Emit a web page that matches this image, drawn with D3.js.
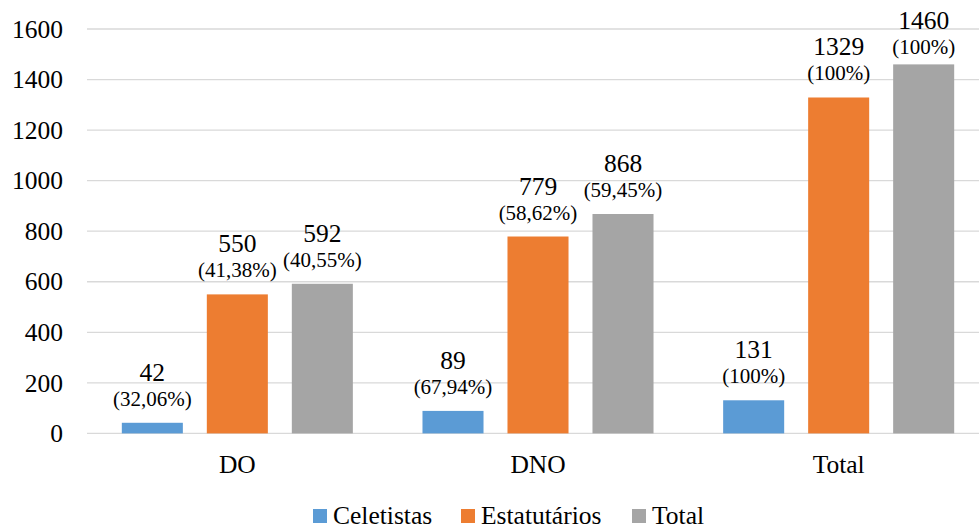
<!DOCTYPE html>
<html>
<head>
<meta charset="utf-8">
<script src="https://cdn.jsdelivr.net/npm/d3@7"></script>
<style>
  html, body { margin: 0; padding: 0; background: #fff; }
</style>
</head>
<body>
<svg id="chart" width="979" height="530"></svg>
<script>
// Groups and series
const groups = ["DO", "DNO", "Total"];
const seriesNames = ["Celetistas", "Estatutários", "Total"];
const seriesColors = ["#5B9BD5", "#ED7D31", "#A5A5A5"];

// Counts per series, one value per group
const celetistas   = [42, 89, 131];
const estatutarios = [550, 779, 1329];
const totais       = [592, 868, 1460];

// Share labels per series, one per group
const pctCeletistas   = ["(32,06%)", "(67,94%)", "(100%)"];
const pctEstatutarios = ["(41,38%)", "(58,62%)", "(100%)"];
const pctTotais       = ["(40,55%)", "(59,45%)", "(100%)"];

const yTicks = [0, 200, 400, 600, 800, 1000, 1200, 1400, 1600];

const seriesValues = [celetistas, estatutarios, totais];
const seriesPct = [pctCeletistas, pctEstatutarios, pctTotais];

const FONT = "'Liberation Serif', 'Times New Roman', serif";

const svg = d3.select("#chart").style("font-family", FONT);
const plot = { left: 87, right: 989, top: 29, bottom: 433.4 };

const x0 = d3.scaleBand().domain(groups).range([plot.left, plot.right]).paddingInner(0.2316).paddingOuter(0.1158);
const x1 = d3.scaleBand().domain(seriesNames).range([0, x0.bandwidth()]).paddingInner(0.282);
const y = d3.scaleLinear().domain([0, 1600]).range([plot.bottom, plot.top]);

// Horizontal gridlines
svg.append("g").selectAll("line").data(yTicks).join("line")
  .attr("x1", plot.left).attr("x2", plot.right)
  .attr("y1", d => y(d)).attr("y2", d => y(d))
  .attr("stroke", "#D9D9D9").attr("stroke-width", 1.3);

// Y axis labels
const yAxis = d3.axisLeft(y).tickValues(yTicks).tickSize(0).tickPadding(0).tickFormat(d3.format("d"));
const gy = svg.append("g").attr("transform", "translate(63,0)").call(yAxis)
  .attr("font-family", null).attr("font-size", null);
gy.select(".domain").remove();
gy.selectAll("text").style("font-size", "25.5px").style("font-family", FONT).attr("fill", "#000");

// Bars and labels
const rows = [];
seriesNames.forEach((s, si) => {
  groups.forEach((g, gi) => {
    rows.push({ group: g, series: s, si, value: seriesValues[si][gi], pct: seriesPct[si][gi] });
  });
});

const bars = svg.append("g");
bars.selectAll("rect").data(rows).join("rect")
  .attr("x", d => x0(d.group) + x1(d.series))
  .attr("width", x1.bandwidth())
  .attr("y", d => y(d.value))
  .attr("height", d => y(0) - y(d.value))
  .attr("fill", d => seriesColors[d.si]);

// Labels sit above each bar; pushed down when they would leave the top of the plot
const labelShift = d => Math.max(0, plot.top - (y(d.value) - 42));
const cx = d => x0(d.group) + x1(d.series) + x1.bandwidth() / 2;

const labels = svg.append("g").attr("text-anchor", "middle");
labels.selectAll("text.pct").data(rows).join("text").attr("class", "pct")
  .attr("x", cx)
  .attr("y", d => y(d.value) - 17 + labelShift(d))
  .style("font-family", FONT).style("font-size", "21px")
  .text(d => d.pct);
labels.selectAll("text.val").data(rows).join("text").attr("class", "val")
  .attr("x", cx)
  .attr("y", d => y(d.value) - 42 + labelShift(d))
  .style("font-family", FONT).style("font-size", "25.5px")
  .text(d => d.value);

// X axis category labels
const xAxis = d3.axisBottom(x0).tickSize(0).tickPadding(0);
const gx = svg.append("g").attr("transform", `translate(0,${plot.bottom})`).call(xAxis)
  .attr("font-family", null).attr("font-size", null);
gx.select(".domain").remove();
gx.selectAll("text").attr("dy", null).attr("y", 40)
  .style("font-size", "25.5px").style("font-family", FONT).attr("fill", "#000");

// Legend
const legendItems = [
  { name: seriesNames[0], color: seriesColors[0], x: 313 },
  { name: seriesNames[1], color: seriesColors[1], x: 461 },
  { name: seriesNames[2], color: seriesColors[2], x: 632 }
];
const legend = svg.append("g");
legend.selectAll("rect").data(legendItems).join("rect")
  .attr("x", d => d.x).attr("y", 509).attr("width", 14).attr("height", 14)
  .attr("fill", d => d.color);
legend.selectAll("text").data(legendItems).join("text")
  .attr("x", d => d.x + 20).attr("y", 524)
  .style("font-family", FONT).style("font-size", "25.5px")
  .text(d => d.name);
</script>
</body>
</html>
